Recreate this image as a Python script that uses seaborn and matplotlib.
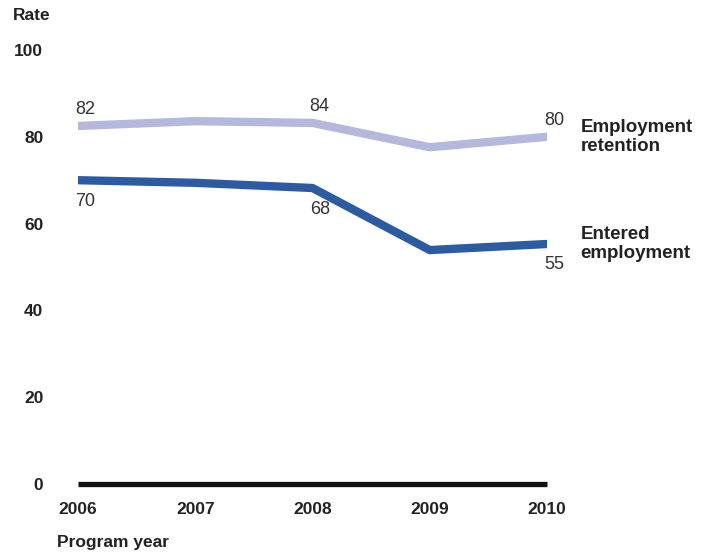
import pandas as pd
import seaborn as sns
import matplotlib
matplotlib.use("Agg")
import matplotlib.pyplot as plt
from matplotlib import font_manager

years = [2006, 2007, 2008, 2009, 2010]
retention = [82.5, 83.6, 83.2, 77.6, 80.0]
entered = [70.0, 69.4, 68.2, 53.9, 55.3]

# printed value labels (year, text)
retention_labels = [(2006, "82"), (2008, "84"), (2010, "80")]
entered_labels = [(2006, "70"), (2008, "68"), (2010, "55")]

y_ticks = [0, 20, 40, 60, 80, 100]

names = [f.name for f in font_manager.fontManager.ttflist]
narrow = "Liberation Sans Narrow" if "Liberation Sans Narrow" in names else "Liberation Sans"

sns.set_style("white")
plt.rcParams["font.family"] = ["Liberation Sans", "DejaVu Sans"]

df = pd.DataFrame({
    "year": years * 2,
    "rate": retention + entered,
    "series": ["Employment\nretention"] * 5 + ["Entered\nemployment"] * 5,
})
colors = {"Employment\nretention": "#b3b8dc", "Entered\nemployment": "#2d5ba1"}

fig = plt.figure(figsize=(7.1, 5.54), dpi=100)
ax = fig.add_axes([78 / 710, 70 / 554, 469 / 710, 434 / 554])

sns.lineplot(data=df, x="year", y="rate", hue="series", palette=colors,
             linewidth=6, legend=False, ax=ax, solid_capstyle="round")

ax.axhline(0, color="#111111", lw=3.8, clip_on=False, solid_capstyle="butt")

ax.set_xlim(2006, 2010)
ax.set_ylim(0, 100)
ax.set_xticks(years)
ax.set_yticks(y_ticks)
ax.set_xticklabels([str(y) for y in years], family=narrow, fontweight="bold", fontsize=12.5, color="#222222")
ax.set_yticklabels([str(t) for t in y_ticks], family=narrow, fontweight="bold", fontsize=12.5, color="#222222")
ax.tick_params(axis="x", length=0, pad=13)
ax.tick_params(axis="y", length=0, pad=25)
ax.set_xlabel("")
ax.set_ylabel("")
sns.despine(ax=ax, left=True, bottom=True)

# value labels
for yr, txt in retention_labels:
    val = retention[years.index(yr)]
    ax.annotate(txt, (yr, val), xytext=(-2, 5.5), textcoords="offset points",
                ha="left", va="bottom", fontsize=13, color="#333333", annotation_clip=False)
for yr, txt in entered_labels:
    val = entered[years.index(yr)]
    ax.annotate(txt, (yr, val), xytext=(-2, -9), textcoords="offset points",
                ha="left", va="top", fontsize=13, color="#333333", annotation_clip=False)

# series names at line ends
for name, vals in [("Employment\nretention", retention), ("Entered\nemployment", entered)]:
    ax.annotate(name, (years[-1], vals[-1]), xytext=(24, 0), textcoords="offset points",
                ha="left", va="center", fontsize=13.5, fontweight="bold", color="#222222",
                linespacing=1.15, annotation_clip=False)

fig.text(13 / 710, 1 - 16 / 554, "Rate", family=narrow, fontweight="bold",
         fontsize=12.5, color="#222222", va="center")
fig.text(57 / 710, 1 - 542 / 554, "Program year", family=narrow, fontweight="bold",
         fontsize=12.5, color="#222222", va="center")

fig.savefig("out.png", dpi=100)
